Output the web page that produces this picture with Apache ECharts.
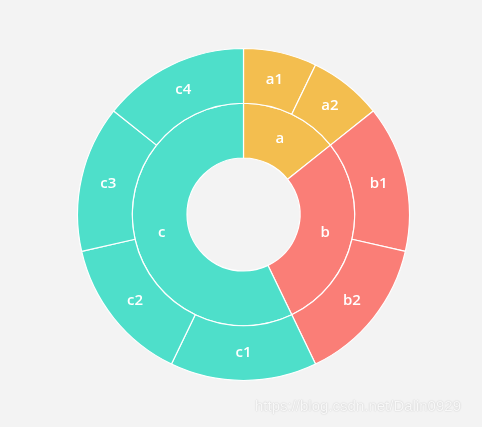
<!DOCTYPE html>
<html>
<head>
<meta charset="utf-8">
<script src="https://cdn.jsdelivr.net/npm/echarts@6/dist/echarts.min.js"></script>
<style>
  html, body { margin: 0; padding: 0; background: #f3f3f3; }
  #chart { width: 482px; height: 427px; }
</style>
</head>
<body>
<div id="chart"></div>
<script>
// Top-level groups and their colours
const groupNames = ['a', 'b', 'c'];
const groupColors = ['#f3be4f', '#fa7e77', '#4edfca'];

// Leaf names and values for each group
const aLeaves = ['a1', 'a2'];
const aValues = [1, 1];
const bLeaves = ['b1', 'b2'];
const bValues = [2, 2];
const cLeaves = ['c1', 'c2', 'c3', 'c4'];
const cValues = [2, 2, 2, 2];

const leafNames = [aLeaves, bLeaves, cLeaves];
const leafValues = [aValues, bValues, cValues];

// Leaves share their group's colour
const data = groupNames.map((g, i) => ({
  name: g,
  itemStyle: { color: groupColors[i] },
  children: leafNames[i].map((n, j) => ({
    name: n,
    value: leafValues[i][j],
    itemStyle: { color: groupColors[i] }
  }))
}));

const chart = echarts.init(document.getElementById('chart'));
chart.setOption({
  backgroundColor: '#f3f3f3',
  series: [{
    type: 'sunburst',
    center: [243.5, 214.5],
    radius: [56.5, 166],
    sort: null,
    startAngle: 90,
    data: data,
    itemStyle: { borderColor: '#ffffff', borderWidth: 1.2 },
    label: {
      rotate: 0,
      color: '#ffffff',
      fontSize: 15,
      fontWeight: 600,
      fontFamily: 'Open Sans, sans-serif'
    },
    emphasis: { focus: 'none' }
  }],
  graphic: [{
    type: 'text',
    left: 255,
    top: 399,
    style: {
      text: 'https://blog.csdn.net/Dalin0929',
      fill: '#f8f8f8',
      fontSize: 15,
      fontFamily: 'Liberation Sans, Arial, sans-serif',
      textShadowColor: 'rgba(0,0,0,0.22)',
      textShadowBlur: 1.5,
      textShadowOffsetX: 0,
      textShadowOffsetY: 0
    }
  }]
});
</script>
</body>
</html>
